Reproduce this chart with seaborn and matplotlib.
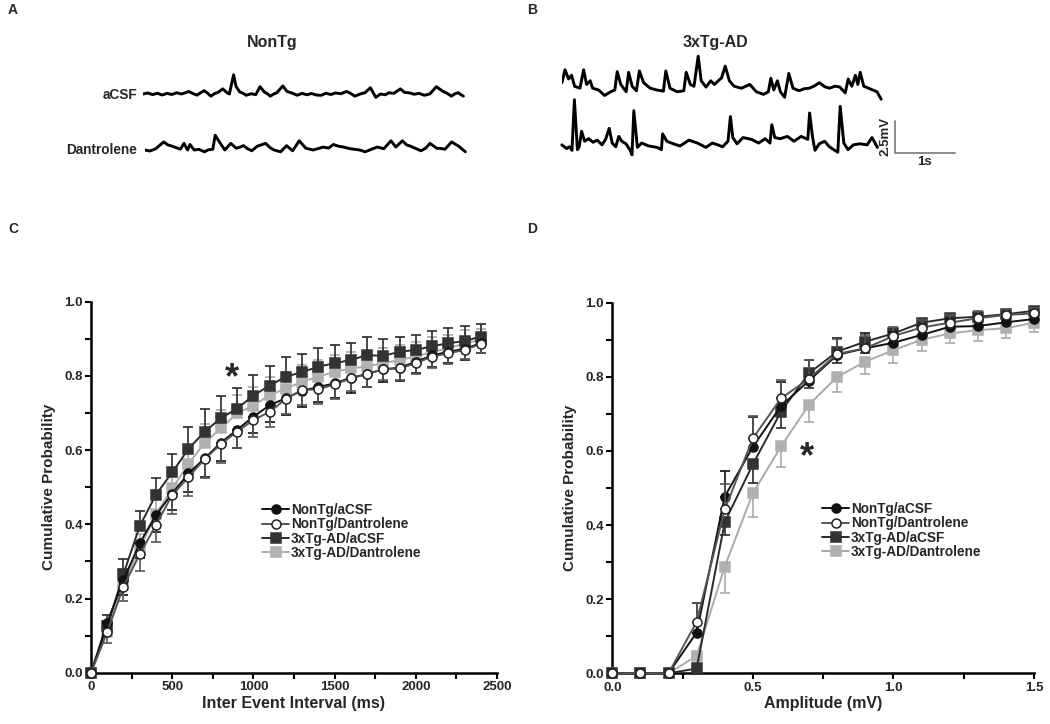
import matplotlib
matplotlib.use("Agg")
import matplotlib.pyplot as plt
from matplotlib.ticker import MultipleLocator, FormatStrFormatter
import numpy as np
import seaborn as sns

sns.set_theme(style="ticks")
plt.rcParams['font.family'] = ['Liberation Sans', 'DejaVu Sans']
plt.rcParams['font.weight'] = 'bold'
plt.rcParams['axes.labelweight'] = 'bold'

W, H = 1050, 724

# ---------------- example traces (time s, mV) ----------------
A_ACSF_T = [0.00, 0.08, 0.16, 0.24, 0.32, 0.40, 0.48, 0.56, 0.64, 0.72,
            0.76, 0.84, 0.90, 0.96, 1.02, 1.08, 1.13, 1.19, 1.26, 1.33,
            1.40, 1.44, 1.51, 1.55, 1.61, 1.67, 1.72, 1.80, 1.88, 1.95,
            2.02, 2.08, 2.12, 2.18, 2.23, 2.33, 2.40, 2.48, 2.57, 2.65,
            2.73, 2.81, 2.89, 2.97, 3.05, 3.13, 3.21, 3.30, 3.39, 3.46,
            3.53, 3.62, 3.70, 3.79, 3.88, 3.96, 4.04, 4.10, 4.18, 4.29,
            4.36, 4.43, 4.52, 4.60, 4.69, 4.78, 4.89, 5.00, 5.07, 5.14,
            5.20, 5.25, 5.34]
A_ACSF_MV = [0.0, 0.08, -0.05, 0.06, -0.08, 0.05, -0.04, 0.10, 0.0, 0.12,
             0.20, 0.02, -0.09, 0.10, 0.26, 0.05, -0.17, 0.02, 0.15, 0.40,
             0.10, 0.0, 1.50, 0.60, 0.17, 0.05, -0.10, 0.02, -0.05, 0.57,
             0.17, 0.0, -0.17, 0.0, 0.10, 0.63, 0.20, 0.08, -0.10, 0.05,
             -0.06, 0.04, -0.08, -0.10, 0.06, -0.04, 0.08, 0.02, 0.20, 0.05,
             -0.17, 0.0, 0.10, 0.49, -0.26, 0.0, -0.06, 0.10, 0.05, 0.40,
             0.12, 0.10, -0.02, 0.05, -0.10, 0.0, 0.57, 0.20, 0.05, -0.17,
             0.02, 0.10, -0.17]

A_DANT_T = [0.00, 0.08, 0.18, 0.31, 0.38, 0.45, 0.52, 0.59, 0.65, 0.71,
            0.75, 0.82, 0.90, 0.99, 1.06, 1.13, 1.17, 1.24, 1.33, 1.43,
            1.52, 1.58, 1.64, 1.71, 1.78, 1.87, 2.01, 2.08, 2.15, 2.26,
            2.36, 2.46, 2.57, 2.68, 2.80, 2.88, 2.97, 3.06, 3.14, 3.22,
            3.31, 3.40, 3.48, 3.58, 3.67, 3.77, 3.87, 3.98, 4.10, 4.18,
            4.29, 4.36, 4.43, 4.52, 4.60, 4.68, 4.75, 4.86, 4.93, 5.00,
            5.11, 5.23, 5.34]
A_DANT_MV = [0.00, -0.08, 0.10, 0.63, 0.40, 0.30, 0.18, 0.06, 0.52, 0.00,
             0.43, 0.00, 0.05, -0.14, 0.02, 0.06, 1.15, 0.63, 0.00, 0.52,
             0.14, 0.22, 0.34, 0.10, -0.06, 0.29, 0.52, 0.20, 0.00, -0.14,
             0.34, -0.06, 0.72, 0.14, 0.00, 0.10, 0.23, 0.15, 0.43, 0.30,
             0.23, 0.12, 0.06, 0.00, -0.14, 0.05, 0.23, 0.10, 0.72, 0.23,
             0.72, 0.40, 0.29, 0.10, -0.06, 0.15, 0.52, 0.14, 0.12, 0.06,
             0.63, 0.29, -0.14]

B_ACSF_T = [0.00, 0.05, 0.11, 0.16, 0.21, 0.30, 0.36, 0.41, 0.47, 0.51,
            0.61, 0.71, 0.81, 0.88, 0.92, 0.98, 1.07, 1.11, 1.17, 1.24,
            1.29, 1.36, 1.47, 1.58, 1.69, 1.73, 1.80, 1.92, 2.03, 2.07,
            2.14, 2.20, 2.27, 2.32, 2.40, 2.48, 2.54, 2.60, 2.66, 2.72,
            2.79, 2.87, 2.99, 3.13, 3.24, 3.36, 3.44, 3.48, 3.53, 3.59,
            3.64, 3.71, 3.78, 3.85, 3.95, 4.04, 4.12, 4.20, 4.29, 4.38,
            4.46, 4.55, 4.63, 4.72, 4.77, 4.83, 4.89, 4.93, 4.97, 5.03,
            5.11, 5.18, 5.25, 5.32]
B_ACSF_MV = [0.57, 1.58, 0.86, 1.15, 0.29, 0.14, 1.58, 0.43, 0.72, 0.14,
             0.00, -0.43, -0.14, 0.00, 1.43, 0.43, -0.14, 1.38, 0.29, -0.06,
             1.49, 0.57, 0.14, 0.00, -0.09, 1.49, 0.14, -0.14, -0.06, 1.38,
             0.43, 0.29, 2.64, 0.72, 0.23, 0.72, 0.43, 0.70, 0.95, 1.87,
             0.72, 0.29, 0.14, 0.43, -0.14, -0.34, -0.14, 0.92, 0.00, 0.72,
             -0.14, -0.57, 1.29, 0.14, -0.06, 0.10, 0.14, 0.30, 0.57, 0.25,
             0.14, 0.30, 0.23, -0.23, 0.86, 0.29, 1.15, 0.43, 1.38, 0.29,
             0.14, 0.00, -0.14, -0.72]

B_DANT_T = [0.03, 0.11, 0.16, 0.20, 0.24, 0.29, 0.32, 0.36, 0.41, 0.48,
            0.55, 0.62, 0.70, 0.76, 0.82, 0.87, 0.93, 0.98, 1.03, 1.10,
            1.17, 1.20, 1.23, 1.29, 1.36, 1.48, 1.62, 1.69, 1.71, 1.78,
            1.89, 2.00, 2.15, 2.29, 2.43, 2.54, 2.63, 2.71, 2.80, 2.84,
            2.88, 2.95, 3.05, 3.19, 3.31, 3.42, 3.50, 3.53, 3.58, 3.67,
            3.79, 3.90, 4.02, 4.13, 4.16, 4.21, 4.25, 4.32, 4.41, 4.49,
            4.58, 4.63, 4.67, 4.73, 4.80, 4.89, 5.00, 5.12, 5.20, 5.29]
B_DANT_MV = [0.09, -0.20, -0.06, -0.34, 3.62, -0.29, -0.06, 1.15, 0.37, 0.57,
             0.29, 0.46, 0.09, 0.52, 1.38, 0.23, -0.06, 0.75, 0.37, 0.17,
             -0.34, -0.69, 2.76, -0.11, 0.23, 0.00, -0.11, -0.29, 0.95, 0.37,
             0.17, 0.00, 0.46, 0.23, -0.11, 0.23, 0.09, -0.06, 0.37, 2.30,
             0.66, 0.17, 0.66, 0.52, 0.23, 0.57, 0.23, 1.66, 0.66, 0.57,
             0.75, 0.37, 0.75, 0.52, 2.58, 0.66, -0.34, 0.17, 0.37, -0.06,
             -0.34, -0.49, 3.10, 0.23, -0.29, 0.09, 0.17, 0.09, 0.66, -0.11]

SCALE_S = 1.0
SCALE_MV = 2.5

# ---------------- cumulative probability (C) ----------------
IEI_MS = [0, 100, 200, 300, 400, 500, 600, 700, 800, 900, 1000, 1100, 1200,
          1300, 1400, 1500, 1600, 1700, 1800, 1900, 2000, 2100, 2200, 2300, 2400]
C_NONTG_ACSF = [0.0, 0.135, 0.25, 0.349, 0.425, 0.483, 0.537, 0.578, 0.62, 0.655,
                0.69, 0.721, 0.74, 0.76, 0.77, 0.78, 0.795, 0.805, 0.818, 0.822,
                0.838, 0.855, 0.865, 0.873, 0.888]
C_NONTG_DANT = [0.0, 0.11, 0.232, 0.319, 0.398, 0.479, 0.527, 0.576, 0.616, 0.65,
                0.681, 0.703, 0.738, 0.762, 0.764, 0.777, 0.793, 0.805, 0.818, 0.82,
                0.834, 0.852, 0.861, 0.87, 0.886]
C_3XTG_ACSF = [0.0, 0.125, 0.266, 0.395, 0.48, 0.54, 0.603, 0.65, 0.686, 0.712,
               0.747, 0.774, 0.798, 0.81, 0.825, 0.834, 0.843, 0.856, 0.854, 0.865,
               0.87, 0.88, 0.888, 0.894, 0.906]
C_3XTG_DANT = [0.0, 0.11, 0.24, 0.335, 0.427, 0.497, 0.562, 0.62, 0.659, 0.699,
               0.72, 0.748, 0.766, 0.784, 0.798, 0.811, 0.82, 0.826, 0.834, 0.843,
               0.852, 0.865, 0.874, 0.888, 0.897]
C_ERR_NONTG_ACSF = [0, 0.03, 0.04, 0.04, 0.045, 0.045, 0.05, 0.05, 0.05, 0.05, 0.045, 0.045,
                    0.045, 0.045, 0.04, 0.04, 0.04, 0.035, 0.035, 0.035, 0.03, 0.03, 0.03, 0.03, 0.025]
C_ERR_NONTG_DANT = [0, 0.03, 0.04, 0.045, 0.045, 0.05, 0.05, 0.05, 0.05, 0.045, 0.045, 0.04,
                    0.04, 0.04, 0.04, 0.04, 0.035, 0.035, 0.03, 0.03, 0.03, 0.03, 0.03, 0.025, 0.025]
C_ERR_3XTG_ACSF = [0, 0.03, 0.04, 0.04, 0.046, 0.05, 0.06, 0.06, 0.06, 0.056, 0.055, 0.053,
                   0.052, 0.05, 0.05, 0.05, 0.045, 0.048, 0.045, 0.04, 0.04, 0.04, 0.04, 0.04, 0.035]
C_ERR_3XTG_DANT = [0, 0.03, 0.04, 0.04, 0.045, 0.05, 0.05, 0.05, 0.05, 0.05, 0.05, 0.05,
                   0.045, 0.045, 0.045, 0.045, 0.045, 0.04, 0.04, 0.04, 0.04, 0.04, 0.035, 0.035, 0.03]

# ---------------- cumulative probability (D) ----------------
AMP_MV = [0.0, 0.1, 0.2, 0.3, 0.4, 0.5, 0.6, 0.7, 0.8, 0.9, 1.0, 1.1, 1.2, 1.3, 1.4, 1.5]
D_NONTG_ACSF = [0, 0, 0, 0.11, 0.477, 0.611, 0.721, 0.79, 0.859, 0.877, 0.892, 0.913, 0.935, 0.937, 0.947, 0.956]
D_NONTG_DANT = [0, 0, 0, 0.139, 0.442, 0.634, 0.742, 0.795, 0.862, 0.877, 0.91, 0.933, 0.946, 0.958, 0.967, 0.971]
D_3XTG_ACSF = [0, 0, 0, 0.013, 0.408, 0.564, 0.706, 0.81, 0.868, 0.895, 0.917, 0.946, 0.958, 0.962, 0.969, 0.978]
D_3XTG_DANT = [0, 0, 0, 0.047, 0.288, 0.486, 0.612, 0.725, 0.80, 0.841, 0.872, 0.90, 0.917, 0.926, 0.931, 0.946]
D_ERR_NONTG_ACSF = [0, 0, 0, 0.08, 0.07, 0.08, 0.065, 0.055, 0.045, 0.04, 0.03, 0.025, 0.02, 0.02, 0.015, 0.015]
D_ERR_NONTG_DANT = [0, 0, 0, 0.05, 0.07, 0.06, 0.05, 0.05, 0.04, 0.035, 0.025, 0.02, 0.02, 0.02, 0.015, 0.015]
D_ERR_3XTG_ACSF = [0, 0, 0, 0.015, 0.035, 0.05, 0.045, 0.04, 0.03, 0.03, 0.025, 0.02, 0.015, 0.015, 0.015, 0.015]
D_ERR_3XTG_DANT = [0, 0, 0, 0.03, 0.07, 0.063, 0.056, 0.048, 0.04, 0.034, 0.034, 0.03, 0.027, 0.03, 0.027, 0.024]

GROUPS = ['NonTg/aCSF', 'NonTg/Dantrolene', '3xTg-AD/aCSF', '3xTg-AD/Dantrolene']
# line colour, marker, face colour, edge colour
STYLE = {
    'NonTg/aCSF': ('#111111', 'o', '#111111', '#111111'),
    'NonTg/Dantrolene': ('#555555', 'o', 'white', '#222222'),
    '3xTg-AD/aCSF': ('#2a2a2a', 's', '#333333', '#333333'),
    '3xTg-AD/Dantrolene': ('#aaaaaa', 's', '#b0b0b0', '#b0b0b0'),
}

fig = plt.figure(figsize=(W / 100, H / 100), dpi=100)


def px_axes(x, y, w, h):
    return fig.add_axes([x / W, 1 - (y + h) / H, w / W, h / H])


# ---------------- traces ----------------
PX_S, PX_MV = 60.0, 12.8
V_LO, V_HI = -1.5, 4.0


def trace_axes(x0, y0, t_max):
    ax = px_axes(x0, y0 - V_HI * PX_MV, t_max * PX_S, (V_HI - V_LO) * PX_MV)
    ax.set_xlim(0, t_max)
    ax.set_ylim(V_LO, V_HI)
    ax.axis('off')
    return ax


for (x0, y0, t, v) in [(143, 94, A_ACSF_T, A_ACSF_MV), (145, 150, A_DANT_T, A_DANT_MV),
                       (562, 90, B_ACSF_T, B_ACSF_MV)]:
    ax = trace_axes(x0, y0, 5.4)
    ax.plot(t, v, color='black', lw=2.1, solid_joinstyle='round')

axb = trace_axes(560, 146, 7.0)
axb.plot(B_DANT_T, B_DANT_MV, color='black', lw=2.1, solid_joinstyle='round')
sb_t, sb_v = 5.58, -0.52
axb.plot([sb_t, sb_t, sb_t + SCALE_S], [sb_v + SCALE_MV, sb_v, sb_v], color='#777777', lw=1.2)
axb.text(sb_t - 0.05, sb_v + SCALE_MV / 2, '2.5mV', rotation=90, ha='right', va='center', fontsize=9.5)
axb.text(sb_t + SCALE_S / 2, sb_v - 0.3, '1s', ha='center', va='top', fontsize=9.5)

fig.text(272 / W, 1 - 43 / H, 'NonTg', ha='center', va='center', fontsize=11.5)
fig.text(715 / W, 1 - 43 / H, '3xTg-AD', ha='center', va='center', fontsize=11.5)
fig.text(137 / W, 1 - 95 / H, 'aCSF', ha='right', va='center', fontsize=9.8)
fig.text(137 / W, 1 - 150 / H, 'Dantrolene', ha='right', va='center', fontsize=9.8)
for lab, x, y in [('A', 8, 10), ('B', 527, 10), ('C', 8, 229), ('D', 527, 229)]:
    fig.text(x / W, 1 - y / H, lab, ha='left', va='center', fontsize=10)


# ---------------- cumulative plots ----------------
def cum_panel(ax, x, series, errs, up, xmax, xmaj, xmin, xfmt, xlabel, star, leg_xy):
    order = ['3xTg-AD/Dantrolene', '3xTg-AD/aCSF', 'NonTg/aCSF', 'NonTg/Dantrolene']
    for z, g in enumerate(order):
        lc, m, fc, ec = STYLE[g]
        y = np.array(series[g])
        e = np.array(errs[g])
        zero = np.zeros_like(e)
        yerr = [zero, e] if up[g] else [e, zero]
        ax.errorbar(x, y, yerr=yerr, fmt='none', ecolor=lc, elinewidth=1.2,
                    capsize=3.5, capthick=1.2, zorder=2 + z, clip_on=False)
        sns.lineplot(x=x, y=y, ax=ax, color=lc, marker=m, markersize=6.5,
                     markerfacecolor=fc, markeredgecolor=ec, markeredgewidth=1.1,
                     linewidth=1.4, label=g, zorder=3 + z, clip_on=False)
    ax.set_xlim(0, xmax)
    ax.set_ylim(0, 1.0)
    ax.xaxis.set_major_locator(MultipleLocator(xmaj))
    ax.xaxis.set_minor_locator(MultipleLocator(xmin))
    ax.xaxis.set_major_formatter(FormatStrFormatter(xfmt))
    ax.yaxis.set_major_locator(MultipleLocator(0.2))
    ax.yaxis.set_minor_locator(MultipleLocator(0.1))
    ax.yaxis.set_major_formatter(FormatStrFormatter('%.1f'))
    sns.despine(ax=ax)
    for s in ['left', 'bottom']:
        ax.spines[s].set_linewidth(1.8)
        ax.spines[s].set_color('black')
    ax.tick_params(which='both', direction='out', length=4, width=1.5, color='black',
                   labelsize=9.5, pad=2)
    for lab in ax.get_xticklabels() + ax.get_yticklabels():
        lab.set_fontweight('bold')
    ax.set_xlabel(xlabel, fontsize=11.5, labelpad=2)
    ax.set_ylabel('Cumulative Probability', fontsize=11, labelpad=6)
    ax.annotate('*', xy=star, xytext=(0, -0.58 * 26), textcoords='offset points',
                ha='center', va='baseline', fontsize=26)
    h, l = ax.get_legend_handles_labels()
    hd = dict(zip(l, h))
    ax.legend([hd[g] for g in GROUPS], GROUPS, loc='upper left',
              bbox_to_anchor=(leg_xy[0] / W, 1 - leg_xy[1] / H), bbox_transform=fig.transFigure,
              frameon=False, borderpad=0, borderaxespad=0, handlelength=2.0,
              handletextpad=0.12, labelspacing=0.02, prop={'size': 9.8, 'weight': 'bold'})


axC = px_axes(91, 301.7, 406, 371)
cum_panel(axC, IEI_MS,
          {'NonTg/aCSF': C_NONTG_ACSF, 'NonTg/Dantrolene': C_NONTG_DANT,
           '3xTg-AD/aCSF': C_3XTG_ACSF, '3xTg-AD/Dantrolene': C_3XTG_DANT},
          {'NonTg/aCSF': C_ERR_NONTG_ACSF, 'NonTg/Dantrolene': C_ERR_NONTG_DANT,
           '3xTg-AD/aCSF': C_ERR_3XTG_ACSF, '3xTg-AD/Dantrolene': C_ERR_3XTG_DANT},
          {'NonTg/aCSF': False, 'NonTg/Dantrolene': False, '3xTg-AD/aCSF': True, '3xTg-AD/Dantrolene': True},
          2500, 500, 250, '%d', 'Inter Event Interval (ms)', (868, 0.824), (262, 503))

axD = px_axes(612.3, 302.7, 421.7, 370.6)
cum_panel(axD, AMP_MV,
          {'NonTg/aCSF': D_NONTG_ACSF, 'NonTg/Dantrolene': D_NONTG_DANT,
           '3xTg-AD/aCSF': D_3XTG_ACSF, '3xTg-AD/Dantrolene': D_3XTG_DANT},
          {'NonTg/aCSF': D_ERR_NONTG_ACSF, 'NonTg/Dantrolene': D_ERR_NONTG_DANT,
           '3xTg-AD/aCSF': D_ERR_3XTG_ACSF, '3xTg-AD/Dantrolene': D_ERR_3XTG_DANT},
          {'NonTg/aCSF': True, 'NonTg/Dantrolene': True, '3xTg-AD/aCSF': False, '3xTg-AD/Dantrolene': False},
          1.5, 0.5, 0.25, '%.1f', 'Amplitude (mV)', (0.692, 0.612), (822, 502))

fig.savefig('out.png', dpi=100, facecolor='white')
